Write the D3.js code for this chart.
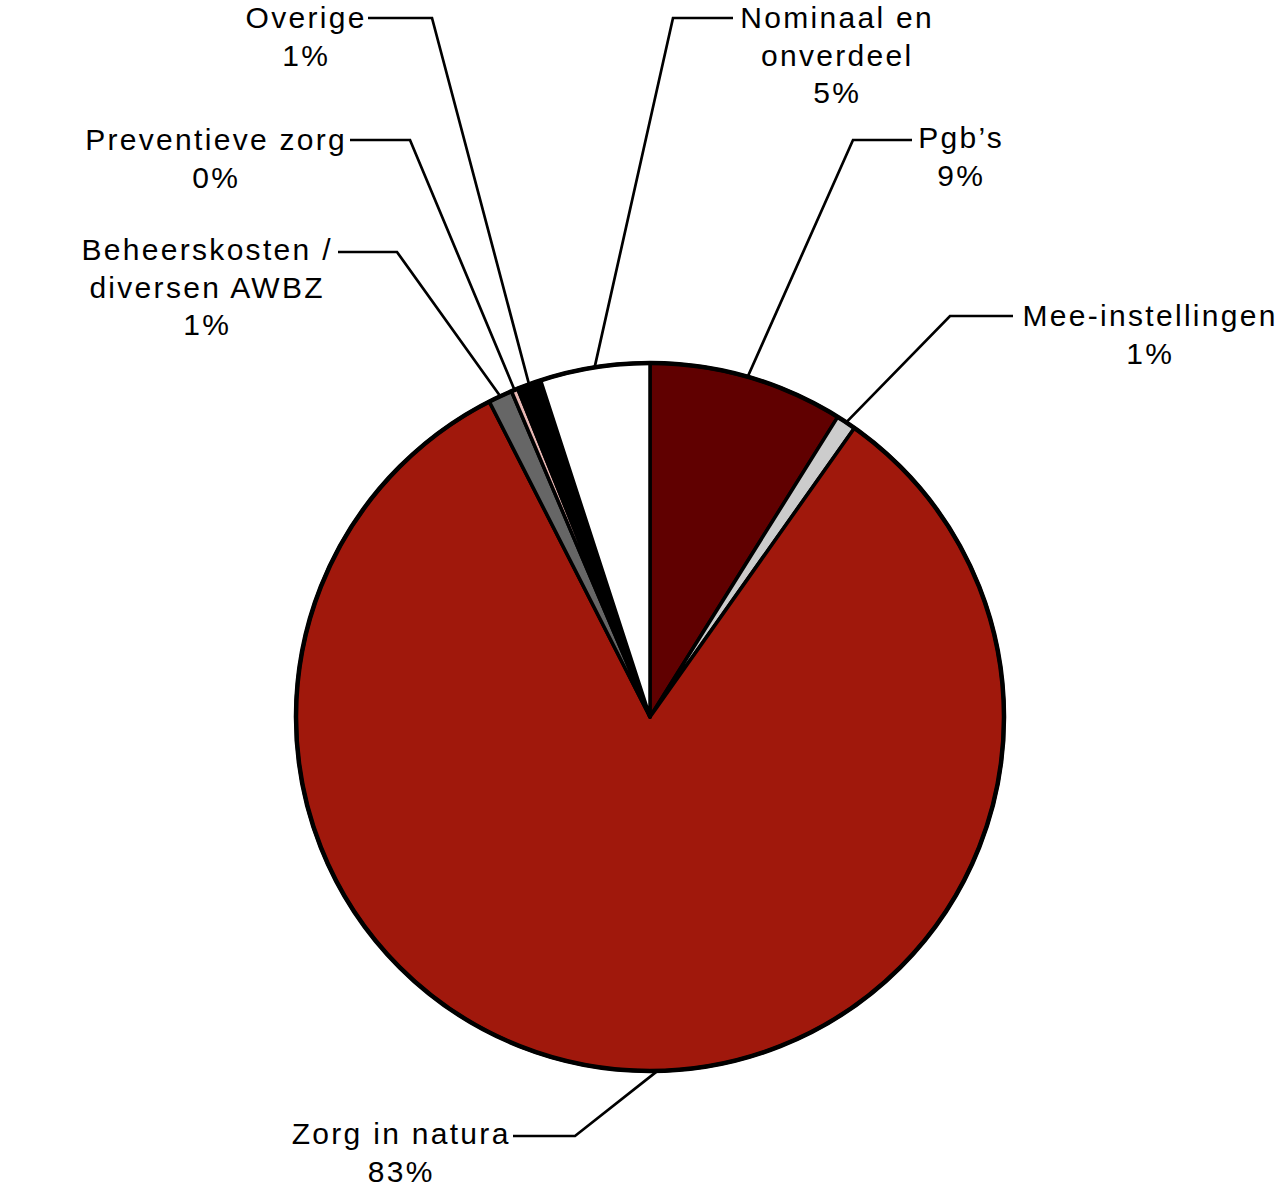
<!DOCTYPE html>
<html>
<head>
<meta charset="utf-8">
<script src="https://cdn.jsdelivr.net/npm/d3@7"></script>
<style>
  html, body { margin: 0; padding: 0; background: #fff; }
  svg text { font-family: "Liberation Sans", Arial, sans-serif; font-size: 30px; letter-spacing: 2.3px; fill: #000; }
</style>
</head>
<body>
<svg id="chart" width="1281" height="1191"></svg>
<script>
// Data (clockwise from 12 o'clock)
const categories = ["Pgb’s", "Mee-instellingen", "Zorg in natura", "Beheerskosten / diversen AWBZ", "Preventieve zorg", "Overige", "Nominaal en onverdeel"];
const values = [8.9, 0.9, 82.7, 1.1, 0.3, 1.1, 5.0];
const percentLabels = ["9%", "1%", "83%", "1%", "0%", "1%", "5%"];
const labelLines = [
  ["Pgb’s"],
  ["Mee-instellingen"],
  ["Zorg in natura"],
  ["Beheerskosten /", "diversen AWBZ"],
  ["Preventieve zorg"],
  ["Overige"],
  ["Nominaal en", "onverdeel"]
];
const colors = ["#600000", "#cccccc", "#a0180c", "#666666", "#e8b8b4", "#000000", "#ffffff"];

// Label layout: text centre x, first baseline, leader start x, elbow x, leader y, fraction within slice for leader end
const labelLayout = [
  { cx: 960, y0: 148, lx: 912, ex: 853, ly: 140, f: 0.5 },
  { cx: 1149, y0: 326, lx: 1013, ex: 950, ly: 316, f: 0.5 },
  { cx: 400, y0: 1144, lx: 513, ex: 575, ly: 1136, f: 0.482 },
  { cx: 206, y0: 260, lx: 338, ex: 397, ly: 252, f: 0.5 },
  { cx: 215, y0: 150, lx: 350, ex: 410, ly: 140, f: 0.5 },
  { cx: 305, y0: 28, lx: 368, ex: 432, ly: 18, f: 0.5 },
  { cx: 836, y0: 28, lx: 733, ex: 673, ly: 18, f: 0.5 }
];
const lineGap = 37.5;

const svg = d3.select("#chart");
const cx = 650, cy = 717, R = 354;

const data = categories.map((c, i) => ({ name: c, value: values[i], color: colors[i], pct: percentLabels[i], lines: labelLines[i], lay: labelLayout[i] }));

const pie = d3.pie().value(d => d.value).sort(null);
const arcs = pie(data);
const arc = d3.arc().innerRadius(0).outerRadius(R);

const g = svg.append("g").attr("transform", `translate(${cx},${cy})`);

g.selectAll("path.slice")
  .data(arcs)
  .join("path")
  .attr("class", "slice")
  .attr("d", arc)
  .attr("fill", d => d.data.color)
  .attr("stroke", "#000")
  .attr("stroke-width", 3.5)
  .attr("stroke-linejoin", "round");

g.append("circle").attr("r", R).attr("fill", "none").attr("stroke", "#000").attr("stroke-width", 4.5);

// Leader lines
arcs.forEach(a => {
  const L = a.data.lay;
  const ang = a.startAngle + (a.endAngle - a.startAngle) * L.f;
  const px = cx + R * Math.sin(ang);
  const py = cy - R * Math.cos(ang);
  svg.append("polyline")
    .attr("points", `${L.lx},${L.ly} ${L.ex},${L.ly} ${px},${py}`)
    .attr("fill", "none")
    .attr("stroke", "#000")
    .attr("stroke-width", 2.7);
});

// Labels
arcs.forEach(a => {
  const L = a.data.lay;
  const all = a.data.lines.concat([a.data.pct]);
  const t = svg.append("text").attr("text-anchor", "middle");
  all.forEach((s, i) => {
    t.append("tspan").attr("x", L.cx + 1.15).attr("y", L.y0 + i * lineGap).text(s);
  });
});
</script>
</body>
</html>
